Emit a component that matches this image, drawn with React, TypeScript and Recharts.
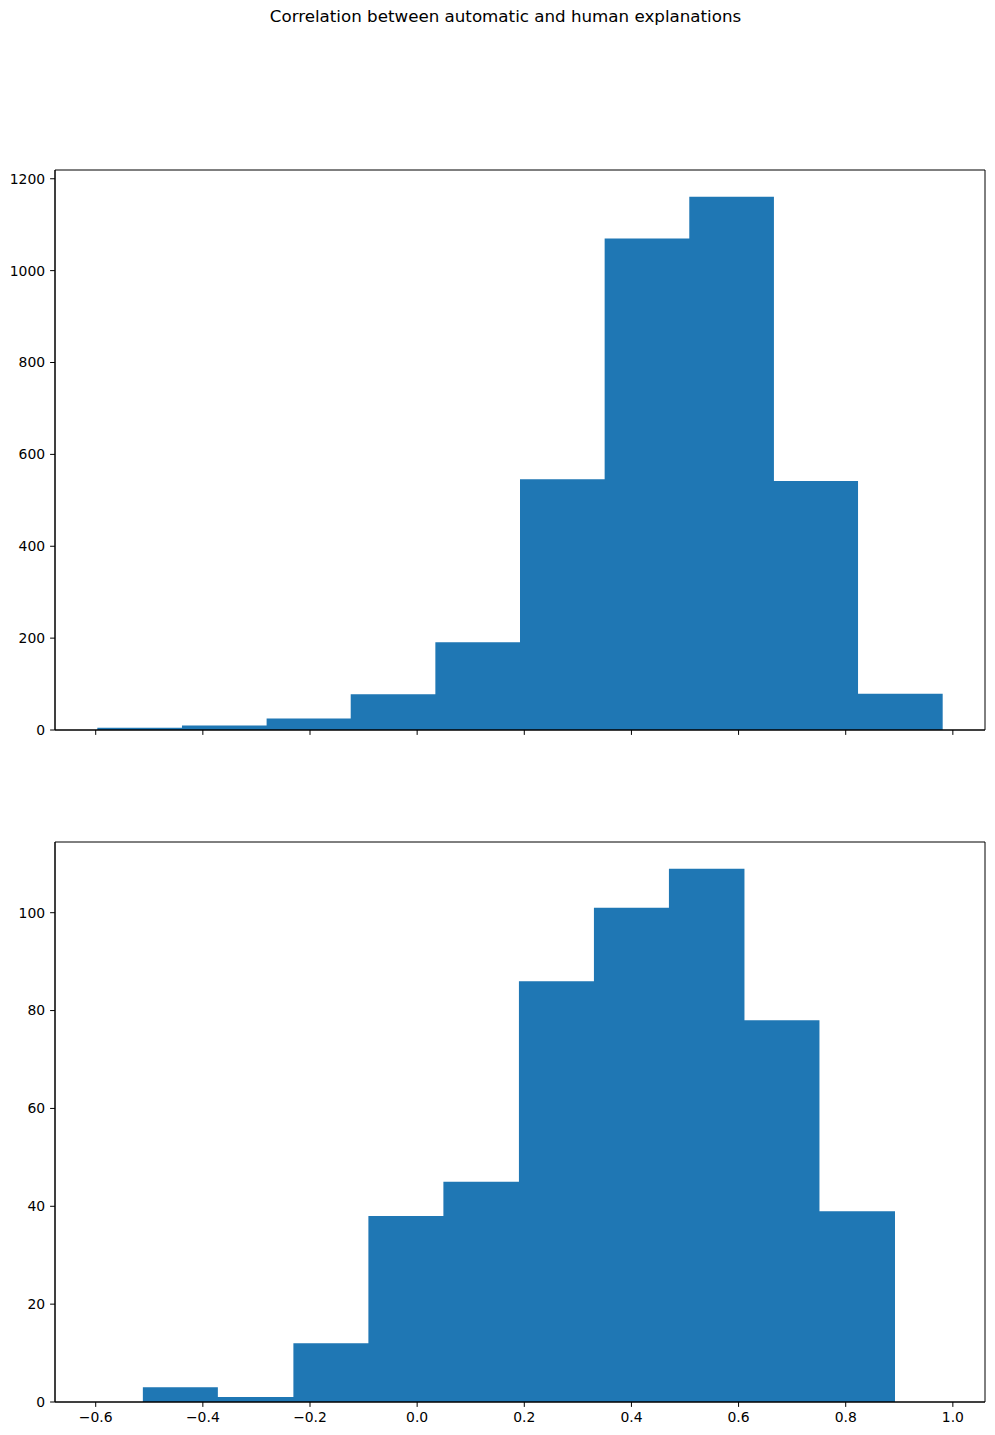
import { Area, ComposedChart, ReferenceArea, XAxis, YAxis } from 'recharts'

// top panel: bin edges and counts
const topEdges = [-0.597, -0.439, -0.281, -0.124, 0.034, 0.192, 0.35, 0.508, 0.666, 0.823, 0.981]
const topCounts = [5, 10, 25, 78, 191, 546, 1070, 1161, 542, 79]
const topYTicks = [0, 200, 400, 600, 800, 1000, 1200]

// bottom panel: bin edges and counts
const bottomEdges = [-0.512, -0.372, -0.231, -0.091, 0.049, 0.19, 0.33, 0.47, 0.611, 0.751, 0.892]
const bottomCounts = [3, 1, 12, 38, 45, 86, 101, 109, 78, 39]
const bottomYTicks = [0, 20, 40, 60, 80, 100]

const xTicks = [-0.6, -0.4, -0.2, 0, 0.2, 0.4, 0.6, 0.8, 1.0]
const xDomain: [number, number] = [-0.676, 1.06]

const FONT = 'DejaVu Sans, sans-serif'
const BLUE = '#1f77b4'

const fmtX = (v: number) => (v < 0 ? '\u2212' : '') + Math.abs(v).toFixed(1)

interface HistProps {
	readonly edges: readonly number[]
	readonly counts: readonly number[]
	readonly yTicks: readonly number[]
	readonly showXLabels: boolean
	readonly top: number
}

function Histogram({ edges, counts, yTicks, showXLabels, top }: HistProps) {
	const yMax = Math.max(...counts) * 1.05
	// step area: one point per left edge, last point repeats final count at right edge
	const data = edges.map((x, i) => ({ x, count: counts[Math.min(i, counts.length - 1)] }))
	const tickStyle = { fill: '#000', fontSize: 13.9, fontFamily: FONT }

	return (
		<div style={{ position: 'absolute', left: 0, top }}>
			<ComposedChart
				width={995}
				height={600}
				data={data}
				margin={{ top: 10, right: 10, bottom: 0, left: 0 }}
			>
				<XAxis
					dataKey="x"
					type="number"
					domain={xDomain}
					ticks={xTicks}
					allowDataOverflow
					height={30}
					tickSize={4.9}
					tickMargin={5}
					stroke="#000"
					tick={tickStyle}
					tickFormatter={showXLabels ? fmtX : () => ''}
				/>
				<YAxis
					type="number"
					domain={[0, yMax]}
					ticks={yTicks as number[]}
					allowDataOverflow
					width={55}
					tickSize={4.9}
					tickMargin={5}
					stroke="#000"
					tick={tickStyle}
				/>
				<Area
					dataKey="count"
					type="stepAfter"
					stroke="none"
					fill={BLUE}
					fillOpacity={1}
					isAnimationActive={false}
				/>
				<ReferenceArea
					x1={xDomain[0]}
					x2={xDomain[1]}
					y1={0}
					y2={yMax}
					fill="none"
					stroke="#000"
					strokeWidth={1}
				/>
			</ComposedChart>
		</div>
	)
}

export default function App() {
	return (
		<div
			style={{
				position: 'absolute',
				left: 0,
				top: 0,
				width: 995,
				height: 1435,
				background: '#fff',
				fontFamily: FONT,
			}}
		>
			<div
				style={{
					position: 'absolute',
					left: 0,
					top: 6,
					width: 1011,
					textAlign: 'center',
					fontSize: 16.7,
					color: '#000',
				}}
			>
				Correlation between automatic and human explanations
			</div>
			<Histogram edges={topEdges} counts={topCounts} yTicks={topYTicks} showXLabels={false} top={160} />
			<Histogram edges={bottomEdges} counts={bottomCounts} yTicks={bottomYTicks} showXLabels top={832} />
		</div>
	)
}
